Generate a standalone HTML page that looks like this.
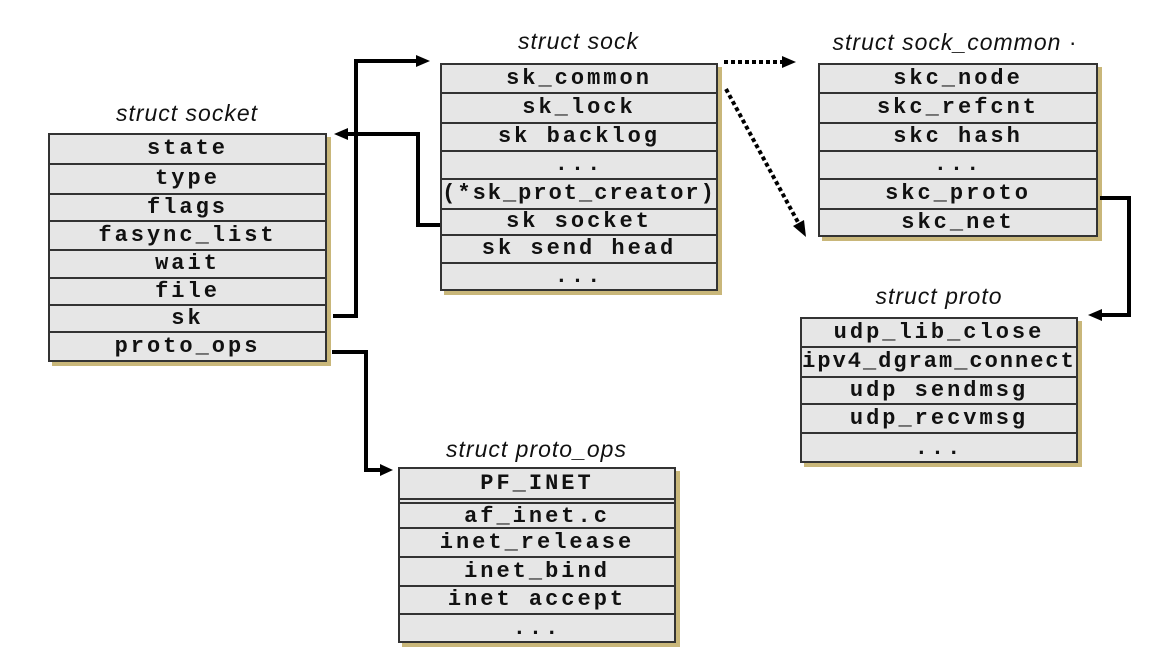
<!DOCTYPE html>
<html><head><meta charset="utf-8"><style>
body{margin:0;width:1172px;height:658px;background:#fff;position:relative;overflow:hidden}
.b{position:absolute;background:#e6e6e6;border:2px solid #333;box-shadow:4px 4px 0 #c9b77a;box-sizing:border-box}
.r{position:absolute;left:0;right:0;border-bottom:2px solid #333;box-sizing:border-box;text-align:center;font-family:"Liberation Mono",monospace;font-weight:bold;font-size:22px;letter-spacing:3px;color:#111;white-space:nowrap}
.r.last{border-bottom:none}
.t{position:absolute;font-family:"Liberation Sans",sans-serif;font-style:italic;font-size:23px;letter-spacing:1px;color:#111;text-align:center;white-space:nowrap}
svg{position:absolute;left:0;top:0}
</style></head><body>

<div class="t" style="left:47px;width:280px;top:100px">struct socket</div>
<div class="b" style="left:48px;top:133px;width:279px;height:229px">
<div class="r" style="top:0;height:30px;line-height:28px">state</div>
<div class="r" style="top:30px;height:30px;line-height:28px">type</div>
<div class="r" style="top:60px;height:27px;line-height:25px">flags</div>
<div class="r" style="top:87px;height:29px;line-height:27px">fasync_list</div>
<div class="r" style="top:116px;height:28px;line-height:26px">wait</div>
<div class="r" style="top:144px;height:27px;line-height:25px">file</div>
<div class="r" style="top:171px;height:27px;line-height:25px">sk</div>
<div class="r last" style="top:198px;height:27px;line-height:27px">proto_ops</div>
</div>

<div class="t" style="left:440px;width:277px;top:28px">struct sock</div>
<div class="b" style="left:440px;top:63px;width:278px;height:228px">
<div class="r" style="top:0;height:29px;line-height:27px">sk_common</div>
<div class="r" style="top:29px;height:30px;line-height:28px">sk_lock</div>
<div class="r" style="top:59px;height:28px;line-height:26px">sk backlog</div>
<div class="r" style="top:87px;height:28px;line-height:26px">...</div>
<div class="r" style="top:115px;height:30px;line-height:28px;overflow:visible;letter-spacing:2px">(*sk_prot_creator)</div>
<div class="r" style="top:145px;height:26px;line-height:24px">sk socket</div>
<div class="r" style="top:171px;height:28px;line-height:26px">sk send head</div>
<div class="r last" style="top:199px;height:26px;line-height:26px">...</div>
</div>

<div class="t" style="left:800px;width:310px;top:29px">struct sock_common <span style="font-style:normal">·</span></div>
<div class="b" style="left:818px;top:63px;width:280px;height:174px">
<div class="r" style="top:0;height:29px;line-height:27px">skc_node</div>
<div class="r" style="top:29px;height:30px;line-height:28px">skc_refcnt</div>
<div class="r" style="top:59px;height:28px;line-height:26px">skc hash</div>
<div class="r" style="top:87px;height:28px;line-height:26px">...</div>
<div class="r" style="top:115px;height:30px;line-height:28px">skc_proto</div>
<div class="r last" style="top:145px;height:27px;line-height:25px">skc_net</div>
</div>

<div class="t" style="left:800px;width:278px;top:283px">struct proto</div>
<div class="b" style="left:800px;top:317px;width:278px;height:146px">
<div class="r" style="top:0;height:29px;line-height:27px">udp_lib_close</div>
<div class="r" style="top:29px;height:30px;line-height:28px;overflow:visible;letter-spacing:2px">ipv4_dgram_connect</div>
<div class="r" style="top:59px;height:27px;line-height:25px">udp sendmsg</div>
<div class="r" style="top:86px;height:29px;line-height:27px">udp_recvmsg</div>
<div class="r last" style="top:115px;height:29px;line-height:29px">...</div>
</div>

<div class="t" style="left:398px;width:277px;top:436px">struct proto_ops</div>
<div class="b" style="left:398px;top:467px;width:278px;height:176px">
<div class="r" style="top:0;height:31px;line-height:29px">PF_INET</div>
<div class="r" style="top:33px;height:27px;line-height:25px;border-top:2px solid #333">af_inet.c</div>
<div class="r" style="top:60px;height:29px;line-height:27px">inet_release</div>
<div class="r" style="top:89px;height:29px;line-height:27px">inet_bind</div>
<div class="r" style="top:118px;height:28px;line-height:26px">inet accept</div>
<div class="r last" style="top:146px;height:28px;line-height:28px">...</div>
</div>

<svg width="1172" height="658">
<g stroke="#000" stroke-width="4" fill="none">
<polyline points="333,316 356,316 356,61 418,61"/>
<polyline points="440,225 418,225 418,134 348,134"/>
<polyline points="332,352 366,352 366,470 382,470"/>
<polyline points="1100,198 1129,198 1129,315 1100,315"/>
<line x1="724" y1="62" x2="784" y2="62" stroke-dasharray="4,3"/>
<line x1="726" y1="89" x2="800" y2="226" stroke-dasharray="4,3"/>
</g>
<g fill="#000">
<polygon points="430,61 416,55 416,67"/>
<polygon points="334,134 348,128 348,140"/>
<polygon points="393,470 380,464 380,476"/>
<polygon points="1088,315 1102,309 1102,321"/>
<polygon points="796,62 782,56 782,68"/>
<polygon points="806,237 793,226 804,220"/>
</g>
</svg>
</body></html>
